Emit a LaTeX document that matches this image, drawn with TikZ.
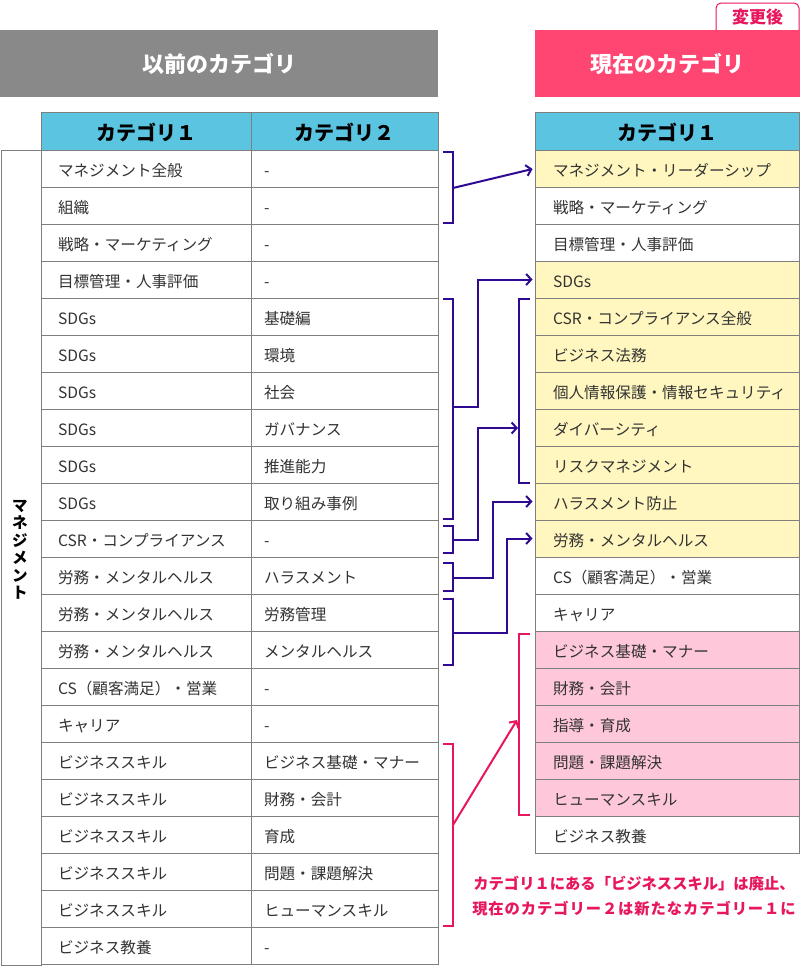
\documentclass[tikz,border=0pt]{standalone}
\usepackage{fontspec}
\setmainfont{Noto Sans CJK JP}
\usetikzlibrary{arrows.meta}
\definecolor{hdrgray}{HTML}{898989}
\definecolor{hdrpink}{HTML}{FF4571}
\definecolor{cyanhd}{HTML}{5BC4E1}
\definecolor{ylw}{HTML}{FFF7BF}
\definecolor{pnk}{HTML}{FFC8DA}
\definecolor{purp}{RGB}{45,10,145}
\definecolor{pline}{HTML}{E8175D}
\definecolor{bord}{HTML}{7F7F7F}
\definecolor{txt}{HTML}{333333}
\tikzset{
  cellbase/.style={draw=bord, line width=1pt, minimum height=37pt, inner ysep=0pt, text height=18pt, text depth=2pt, align=left, text=txt, font=\fontsize{15.6}{17}\selectfont, anchor=center},
  cola/.style={cellbase, text width=176pt, inner xsep=17pt},
  colb/.style={cellbase, text width=161pt, inner xsep=13pt},
  colr/.style={cellbase, text width=228pt, inner xsep=18pt},
  headcell/.style={draw=bord, line width=1pt, fill=cyanhd, minimum height=38pt, inner ysep=0pt, text height=19pt, text depth=1pt, font=\bfseries\fontsize{20}{22}\selectfont, text=black},
  titlebox/.style={minimum height=67pt, text=white, font=\bfseries\fontsize{22}{24}\selectfont, inner sep=0pt},
  brk/.style={draw=purp, line width=2pt},
  brkp/.style={draw=pline, line width=2pt},
  arr/.style={brk, -{Straight Barb[length=5pt,width=11pt]}},
  arrp/.style={brkp, -{Straight Barb[length=5pt,width=11pt]}}
}
\begin{document}
\begin{tikzpicture}[x=1pt,y=-1pt]
\useasboundingbox (0,0) rectangle (800,967);
\fill[white] (0,0) rectangle (800,967);

% tab
\filldraw[fill=white, draw=pline, line width=1pt, rounded corners=5pt] (716,32) -- (716,3) -- (799,3) -- (799,32);
\node[text=pline, font=\bfseries\fontsize{17}{19}\selectfont] (tab) at (757.5,17.5) {変更後};

% titles
\node[titlebox, fill=hdrgray, minimum width=438pt] (oldt) at (219,63.5) {以前のカテゴリ};
\node[titlebox, fill=hdrpink, minimum width=265pt] (newt) at (667.5,63.5) {現在のカテゴリ};

% side box
\draw[draw=bord, line width=1pt] (1,150) rectangle (41,965);
\node[font=\bfseries\fontsize{15.5}{17.5}\selectfont, align=center, text=black] (side) at (20,550) {マ\\ネ\\ジ\\メ\\ン\\ト};

% left header
\node[headcell, minimum width=210pt] (Lha) at (146,131) {カテゴリ１};
\node[headcell, minimum width=187pt] (Lhb) at (344.5,131) {カテゴリ２};

% left rows
\foreach \a/\b [count=\i] in {
 マネジメント全般/-, 組織/-, 戦略・マーケティング/-, 目標管理・人事評価/-,
 SDGs/基礎編, SDGs/環境, SDGs/社会, SDGs/ガバナンス, SDGs/推進能力, SDGs/取り組み事例,
 CSR・コンプライアンス/-, 労務・メンタルヘルス/ハラスメント, 労務・メンタルヘルス/労務管理,
 労務・メンタルヘルス/メンタルヘルス, CS（顧客満足）・営業/-, キャリア/-,
 ビジネススキル/ビジネス基礎・マナー, ビジネススキル/財務・会計, ビジネススキル/育成,
 ビジネススキル/問題・課題解決, ビジネススキル/ヒューマンスキル, ビジネス教養/-}{
  \node[cola] (La\i) at (146,{131.5+37*\i}) {\a};
  \node[colb] (Lb\i) at (344.5,{131.5+37*\i}) {\b};
}

% right header
\node[headcell, minimum width=264pt] (Rh) at (667,131) {カテゴリ１};

% right rows
\foreach \t/\c [count=\i] in {
 マネジメント・リーダーシップ/ylw, 戦略・マーケティング/white, 目標管理・人事評価/white,
 SDGs/ylw, CSR・コンプライアンス全般/ylw, ビジネス法務/ylw, 個人情報保護・情報セキュリティ/ylw,
 ダイバーシティ/ylw, リスクマネジメント/ylw, ハラスメント防止/ylw, 労務・メンタルヘルス/ylw,
 CS（顧客満足）・営業/white, キャリア/white, ビジネス基礎・マナー/pnk, 財務・会計/pnk,
 指導・育成/pnk, 問題・課題解決/pnk, ヒューマンスキル/pnk, ビジネス教養/white}{
  \node[colr, fill=\c] (R\i) at (667,{131.5+37*\i}) {\t};
}

% left brackets (purple)
\draw[brk] (443,152) -- (453,152) -- (453,223) -- (443,223);
\draw[brk] (443,299) -- (453,299) -- (453,519) -- (443,519);
\draw[brk] (443,526) -- (453,526) -- (453,553) -- (443,553);
\draw[brk] (443,563) -- (453,563) -- (453,591) -- (443,591);
\draw[brk] (443,599) -- (453,599) -- (453,665) -- (443,665);
% right bracket (purple)
\draw[brk] (530,299) -- (519,299) -- (519,483) -- (530,483);
\coordinate (rb) at (519,428);

\coordinate (b1) at (453,188);
\coordinate (b2) at (453,407);
\coordinate (b3) at (453,540);
\coordinate (b4) at (453,578);
\coordinate (b5) at (453,633);

\draw[arr, shorten >=2pt] (b1) -- (R1.west);
\draw[arr, shorten >=2pt] (b2) -- (478,407) |- (R4.west);
\draw[arr, shorten >=1pt] (b3) -- (478,540) |- (rb);
\draw[arr, shorten >=2pt] (b4) -- (493,578) |- (R10.west);
\draw[arr, shorten >=2pt] (b5) -- (507,633) |- (R11.west);

% pink brackets
\draw[brkp] (443,744) -- (453,744) -- (453,926) -- (443,926);
\draw[brkp] (530,634) -- (519,634) -- (519,815) -- (530,815);
\coordinate (pb) at (453,825);
\coordinate (prb) at (517,720);
\draw[arrp] (pb) -- (prb);

% note
\node[text=pline, font=\bfseries\fontsize{15.3}{25}\selectfont, align=center] (note) at (634,896.5)
 {カテゴリ１にある「ビジネススキル」は廃止、\\{\addfontfeature{LetterSpace=6}現在のカテゴリー２は新たなカテゴリー１に}};
\end{tikzpicture}
\end{document}
